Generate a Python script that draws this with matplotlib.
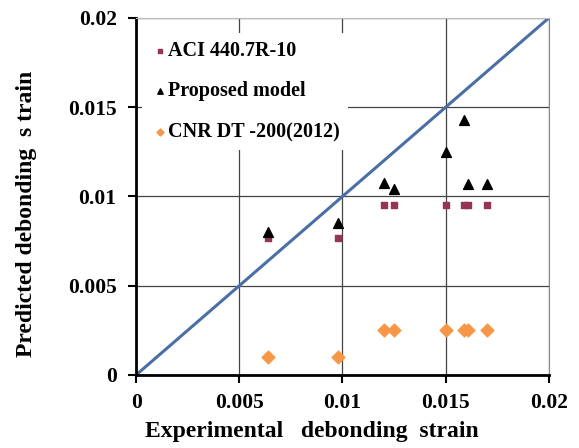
import matplotlib.pyplot as plt
from matplotlib.ticker import FixedLocator

# data
exp_strain = [0.0064, 0.0098, 0.0120, 0.0125, 0.0150, 0.0159, 0.0161, 0.0170]
aci = [0.0077, 0.0077, 0.0095, 0.0095, 0.0095, 0.0095, 0.0095, 0.0095]
proposed = [0.0080, 0.0085, 0.01075, 0.0104, 0.0125, 0.0143, 0.0107, 0.0107]
cnr = [0.0010, 0.0010, 0.0025, 0.0025, 0.0025, 0.0025, 0.0025, 0.0025]
ticks = [0, 0.005, 0.01, 0.015, 0.02]
tick_labels = ["0", "0.005", "0.01", "0.015", "0.02"]

plt.rcParams['font.family'] = 'Liberation Serif'
plt.rcParams['font.weight'] = 'bold'

fig = plt.figure(figsize=(5.79, 4.48), dpi=100)
ax = fig.add_axes([0.235, 0.163, 0.713, 0.797])

# equality line
ax.plot([0, 0.02], [0, 0.02], color='#4A6FA5', linewidth=2.2, zorder=2)

ax.scatter(exp_strain, aci, marker='s', s=22, color='#953553', label='ACI 440.7R-10', zorder=3)
ax.scatter(exp_strain, proposed, marker='^', s=50, color='black', label='Proposed model', zorder=4)
ax.scatter(exp_strain, cnr, marker='D', s=42, color='#F79646', label='CNR DT -200(2012)', zorder=3)

ax.set_xlim(0, 0.02)
ax.set_ylim(0, 0.02)
ax.xaxis.set_major_locator(FixedLocator(ticks))
ax.yaxis.set_major_locator(FixedLocator(ticks))
ax.set_xticklabels(tick_labels, fontsize=15.5, fontweight='bold')
ax.set_yticklabels(tick_labels, fontsize=15.5, fontweight='bold')
ax.grid(True, color='#444444', linewidth=0.9)
ax.set_axisbelow(True)
ax.tick_params(axis='x', direction='out', length=6, width=1.5, pad=7)
ax.tick_params(axis='y', direction='out', length=6, width=1.5, pad=8)

ax.spines['left'].set_linewidth(2)
ax.spines['bottom'].set_linewidth(2)
ax.spines['top'].set_color('#bbbbbb')
ax.spines['right'].set_color('#888888')

ax.set_xlabel('Experimental   debonding  strain', fontsize=17, fontweight='bold')
ax.xaxis.set_label_coords(0.426, -0.13)
ax.set_ylabel('Predicted debonding  s train', fontsize=17, fontweight='bold')
ax.yaxis.set_label_coords(-0.24, 0.45)

leg = ax.legend(loc='upper left', bbox_to_anchor=(0.0, 0.975), frameon=True, fontsize=14.5,
                labelspacing=1.02, handletextpad=-0.1, handlelength=1.0, markerscale=0.55,
                borderaxespad=0.3, facecolor='white', edgecolor='none', framealpha=1)
for t in leg.get_texts():
    t.set_fontweight('bold')

plt.savefig("out.png", dpi=100)
plt.close()
